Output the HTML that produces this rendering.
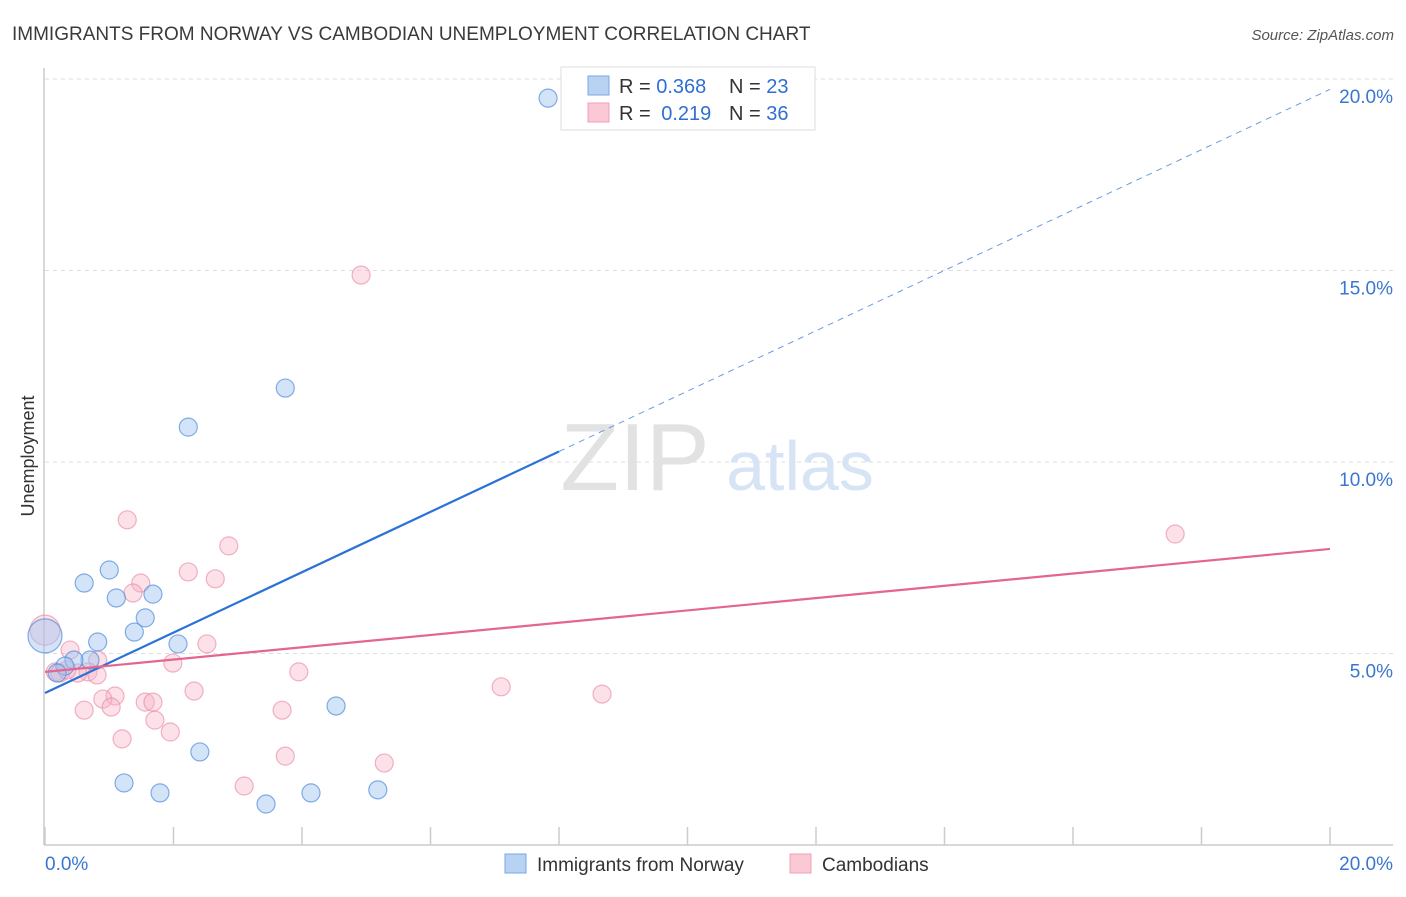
<!DOCTYPE html>
<html><head><meta charset="utf-8"><style>
body{margin:0;background:#fff;font-family:"Liberation Sans",sans-serif;}
svg text{font-family:"Liberation Sans",sans-serif;}
</style></head><body>
<svg id="chart" width="1406" height="892" xmlns="http://www.w3.org/2000/svg">
<text x="12" y="40" font-size="19" fill="#3a3a3a">IMMIGRANTS FROM NORWAY VS CAMBODIAN UNEMPLOYMENT CORRELATION CHART</text>
<text x="1394" y="40" font-size="15" fill="#555" font-style="italic" text-anchor="end">Source: ZipAtlas.com</text>
<text x="0" y="0" transform="translate(34,456) rotate(-90)" font-size="18" fill="#333" text-anchor="middle">Unemployment</text>
<g id="grid"></g>
<g id="axes"></g>
<text x="635" y="490" font-size="96" fill="#e2e2e2" font-family="Liberation Serif" text-anchor="middle">ZIP</text>
<text x="800" y="490" font-size="70" fill="#d6e4f5" text-anchor="middle">atlas</text>
<g id="pts"></g>
<g id="lines"></g>
<g>
<rect x="561" y="67" width="254" height="63" fill="#fff" stroke="#ddd"/>
<rect x="588" y="76" width="21" height="19" fill="#b8d2f3" stroke="#7aa8e3"/>
<rect x="588" y="103" width="21" height="19" fill="#fbc8d6" stroke="#f0a0b8"/>
<text x="619" y="93" font-size="20" fill="#333">R = <tspan fill="#2f6fd4">0.368</tspan></text>
<text x="729" y="93" font-size="20" fill="#333">N = <tspan fill="#2f6fd4">23</tspan></text>
<text x="619" y="120" font-size="20" fill="#333">R = <tspan fill="#2f6fd4" dx="5">0.219</tspan></text>
<text x="729" y="120" font-size="20" fill="#333">N = <tspan fill="#2f6fd4">36</tspan></text>
</g>
<g>
<rect x="505" y="854" width="21" height="19" fill="#b8d2f3" stroke="#7aa8e3"/>
<text x="537" y="871" font-size="19" fill="#333">Immigrants from Norway</text>
<rect x="790" y="854" width="21" height="19" fill="#fbc8d6" stroke="#f0a0b8"/>
<text x="822" y="871" font-size="19" fill="#333">Cambodians</text>
</g>
</svg>
<script>
const blueX=[7.83,3.74,2.23,1.00,0.61,1.11,1.68,1.56,1.39,0.82,2.07,0.70,0.45,0.31,0.19,0,4.53,2.41,1.23,1.79,3.44,4.14,5.18];
const blueY=[19.50,11.93,10.91,7.18,6.84,6.45,6.55,5.93,5.56,5.30,5.25,4.83,4.83,4.67,4.49,5.46,3.63,2.43,1.62,1.36,1.07,1.36,1.44];
const blueR=[9,9,9,9,9,9,9,9,9,9,9,9,9,9,9,17,9,9,9,9,9,9,9];
const pinkX=[4.92,17.59,1.28,2.86,2.23,2.65,1.49,1.37,2.52,1.99,3.95,0.82,0.39,0.16,0.67,7.10,8.67,2.32,1.09,0.90,1.56,1.68,1.03,0.61,3.69,1.71,1.95,1.20,3.74,5.28,3.10,0,0.51,0.23,0.34,0.81];
const pinkY=[14.88,8.12,8.49,7.81,7.13,6.95,6.84,6.58,5.25,4.75,4.52,4.83,5.09,4.52,4.52,4.13,3.94,4.02,3.89,3.81,3.73,3.73,3.60,3.52,3.52,3.26,2.95,2.77,2.32,2.14,1.54,5.61,4.49,4.49,4.57,4.44];
const pinkR=[9,9,9,9,9,9,9,9,9,9,9,9,9,9,9,9,9,9,9,9,9,9,9,9,9,9,9,9,9,9,9,15,9,9,9,9];
const yTicks=[5,10,15,20];
const yTickLabels=["5.0%","10.0%","15.0%","20.0%"];
const xTicks=[0,2,4,6,8,10,12,14,16,18,20];
const blueTrend=[3.97,0.788,8.0];
const pinkTrend=[4.52,0.1605];
const NS="http://www.w3.org/2000/svg";
const sx=v=>45+v*64.25, sy=v=>845-v*38.3;
function mk(tag,attrs,parent){const e=document.createElementNS(NS,tag);for(const k in attrs)e.setAttribute(k,attrs[k]);parent.appendChild(e);return e;}
const grid=document.getElementById('grid'),axes=document.getElementById('axes'),pts=document.getElementById('pts'),lines=document.getElementById('lines');
yTicks.forEach((t,i)=>{
 const l=mk('line',{x1:45,x2:1393,y1:sy(t),y2:sy(t),stroke:'#ddd','stroke-dasharray':'4,4'},grid);
 
 
 const tx=mk('text',{x:1393,y:sy(t)+24,'font-size':19,fill:'#3a76d0','text-anchor':'end'},axes);
 tx.textContent=yTickLabels[i];
 
 
});
mk('line',{x1:44,x2:44,y1:68,y2:845,stroke:'#ccc','stroke-width':1.5},axes);
mk('line',{x1:44,x2:1393,y1:845,y2:845,stroke:'#ccc','stroke-width':1.5},axes);
xTicks.forEach(t=>{
 const l=mk('line',{x1:sx(t),x2:sx(t),y1:827,y2:845,stroke:'#ccc','stroke-width':1.5},axes);
 
 
});
const xl=mk('text',{x:45,y:870,'font-size':19,fill:'#3a76d0'},axes);xl.textContent="0.0%";


const xr=mk('text',{x:1393,y:870,'font-size':19,fill:'#3a76d0','text-anchor':'end'},axes);xr.textContent="20.0%";


pinkX.forEach((x,i)=>{
 const c=mk('circle',{cx:sx(x),cy:sy(pinkY[i]),r:pinkR[i],fill:'rgba(248,180,200,0.4)',stroke:'rgba(232,130,160,0.6)','stroke-width':1.2},pts);
 
 
});
blueX.forEach((x,i)=>{
 const c=mk('circle',{cx:sx(x),cy:sy(blueY[i]),r:blueR[i],fill:'rgba(160,196,240,0.45)',stroke:'rgba(80,140,220,0.7)','stroke-width':1.2},pts);
 
 
});
const bs=mk('line',{x1:sx(0),y1:sy(blueTrend[0]),x2:sx(blueTrend[2]),y2:sy(blueTrend[0]+blueTrend[1]*blueTrend[2]),stroke:'#2a72d8','stroke-width':2.2},lines);


const bd=mk('line',{x1:sx(blueTrend[2]),y1:sy(blueTrend[0]+blueTrend[1]*blueTrend[2]),x2:sx(20),y2:sy(blueTrend[0]+blueTrend[1]*20),stroke:'#6a9be0','stroke-width':1,'stroke-dasharray':'6,5'},lines);


const pl=mk('line',{x1:sx(0),y1:sy(pinkTrend[0]),x2:sx(20),y2:sy(pinkTrend[0]+pinkTrend[1]*20),stroke:'#e4668f','stroke-width':2.2},lines);


</script>
</body></html>
